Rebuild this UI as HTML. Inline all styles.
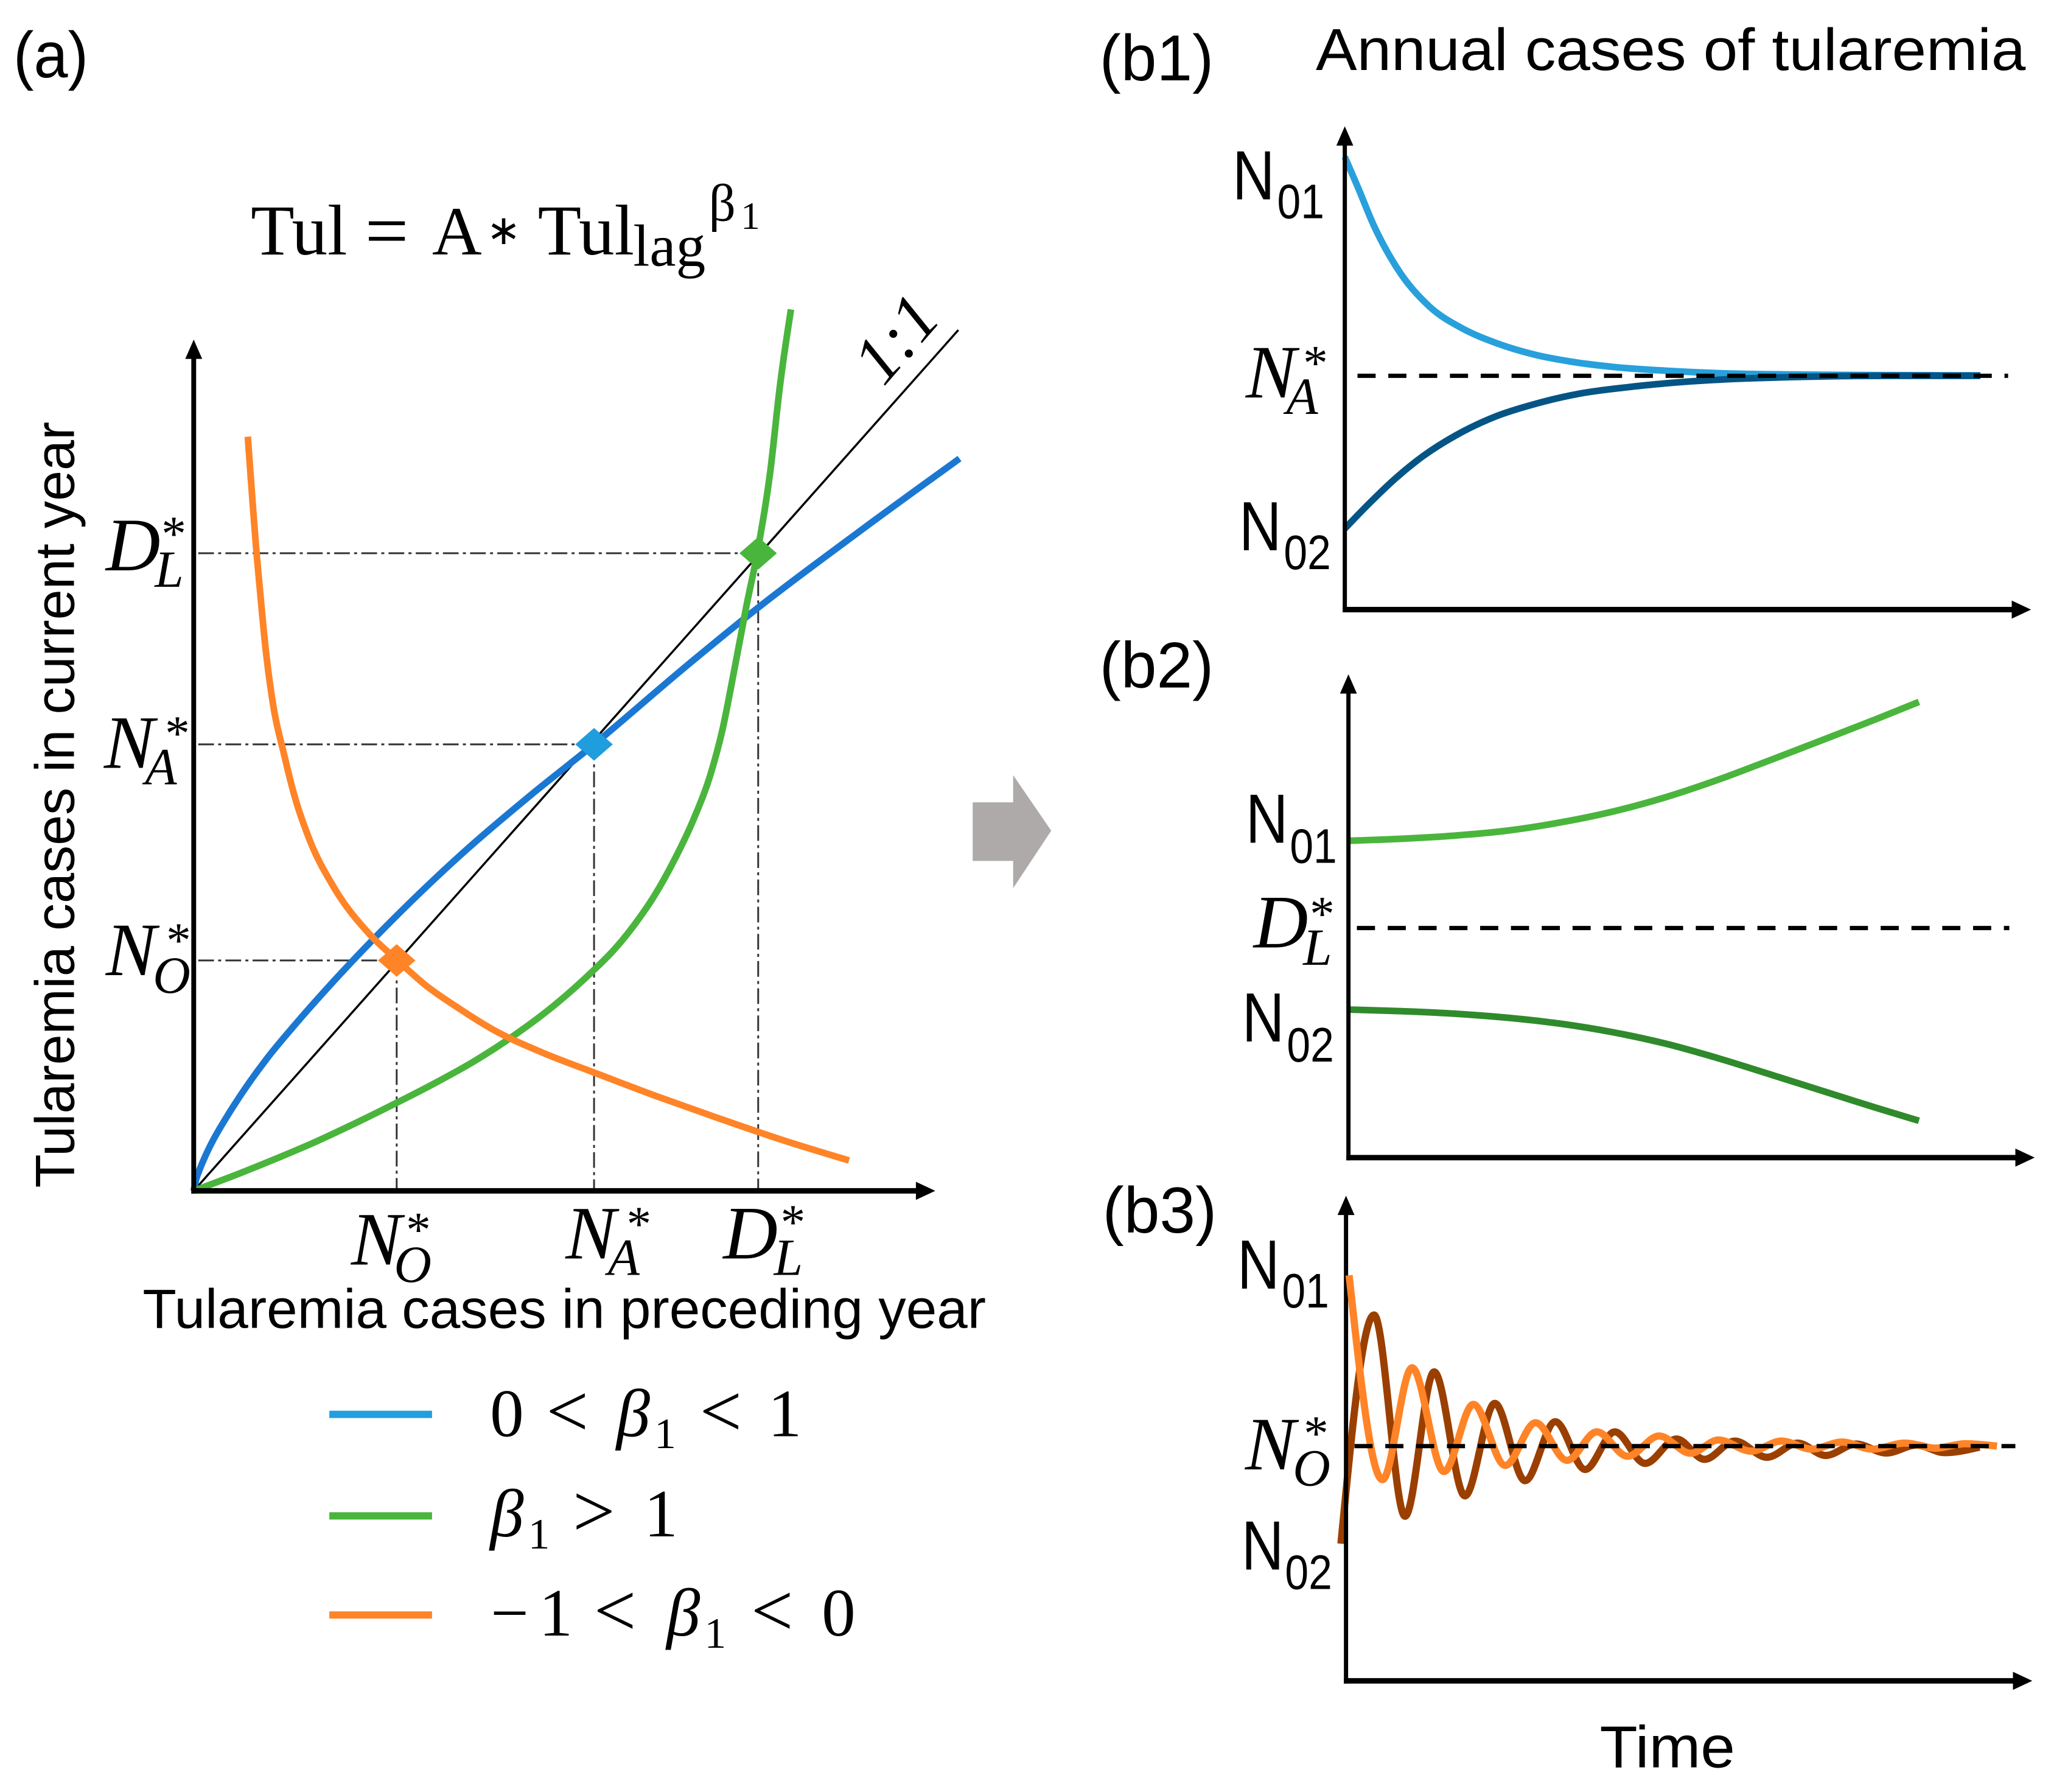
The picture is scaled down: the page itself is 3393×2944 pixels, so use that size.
<!DOCTYPE html>
<html lang="en">
<head>
<meta charset="utf-8">
<title>Tularemia cases model</title>
<style>
html,body{margin:0;padding:0;background:#fff;width:3393px;height:2944px;overflow:hidden}
svg{display:block}
text{fill:#000}
.sans{font-family:"Liberation Sans",sans-serif}
.serif{font-family:"Liberation Serif",serif}
.m{font-family:"Liberation Serif",serif;font-style:italic;font-size:125px}
.ms{font-family:"Liberation Serif",serif;font-style:italic;font-size:86px}
.st{font-family:"Liberation Serif",serif;font-size:82px}
.n{font-family:"Liberation Sans",sans-serif;font-size:115px}
.ns{font-family:"Liberation Sans",sans-serif;font-size:80px}
.pl{font-family:"Liberation Sans",sans-serif;font-size:108px}
.leg{font-family:"Liberation Serif",serif;font-size:112px}
.lt{font-size:124px}
.it{font-style:italic}
</style>
</head>
<body>
<svg id="figure" xmlns="http://www.w3.org/2000/svg" width="3393" height="2944" viewBox="0 0 3418 2966">
  <rect width="3418" height="2966" fill="#fff"/>

  <g id="panel-a">
    <text class="pl" x="22" y="128" textLength="124" lengthAdjust="spacingAndGlyphs">(a)</text>

    <g class="serif">
      <text x="415" y="421" font-size="118">Tul</text>
      <text x="604" y="425" font-size="128">=</text>
      <text x="715" y="421" font-size="114">A</text>
      <text x="805" y="404" font-size="68">∗</text>
      <text x="890" y="421" font-size="118">Tul</text>
      <text x="1048" y="440" font-size="98">lag</text>
      <text x="1173" y="365" font-size="88">β</text>
      <text x="1226" y="379" font-size="64">1</text>
    </g>

    <g id="a-marks"></g>

    <text class="serif it" font-size="112" transform="translate(1511,585) rotate(-49)" text-anchor="middle">1:1</text>

    <text class="sans" font-size="92" transform="translate(122,1966) rotate(-90)" textLength="1268" lengthAdjust="spacingAndGlyphs">Tularemia cases in current year</text>
    <text class="sans" font-size="92" x="236" y="2198" textLength="1396" lengthAdjust="spacingAndGlyphs">Tularemia cases in preceding year</text>

    <g><text class="m" x="175" y="944">D</text><text class="ms" x="256" y="971">L</text><text class="st" x="267" y="911">*</text></g>
    <g><text class="m" x="172" y="1271">N</text><text class="ms" x="240" y="1298">A</text><text class="st" x="273" y="1241">*</text></g>
    <g><text class="m" x="175" y="1614">N</text><text class="ms" x="253" y="1643">O</text><text class="st" x="275" y="1584">*</text></g>
    <g><text class="m" x="581" y="2093">N</text><text class="ms" x="652" y="2122">O</text><text class="st" x="672" y="2063">*</text></g>
    <g><text class="m" x="936" y="2083">N</text><text class="ms" x="1006" y="2110">A</text><text class="st" x="1037" y="2053">*</text></g>
    <g><text class="m" x="1197" y="2083">D</text><text class="ms" x="1281" y="2110">L</text><text class="st" x="1292" y="2050">*</text></g>

    <g>
      <g>
        <line x1="545" x2="715" y1="2341" y2="2341" stroke="#229fdd" stroke-width="12"/>
        <text class="leg" y="2377"><tspan x="811">0</tspan><tspan class="lt" x="904">&lt;</tspan><tspan class="it" x="1020">β</tspan><tspan font-size="72" x="1083" dy="20">1</tspan><tspan class="lt" x="1158" dy="-20">&lt;</tspan><tspan x="1271">1</tspan></text>
      </g>
      <g>
        <line x1="545" x2="715" y1="2509" y2="2509" stroke="#4ab53c" stroke-width="12"/>
        <text class="leg" y="2543"><tspan class="it" x="811">β</tspan><tspan font-size="72" x="874" dy="20">1</tspan><tspan class="lt" x="948" dy="-20">&gt;</tspan><tspan x="1066">1</tspan></text>
      </g>
      <g>
        <line x1="545" x2="715" y1="2673" y2="2673" stroke="#ff8427" stroke-width="12"/>
        <text class="leg" y="2707"><tspan x="812">−</tspan><tspan x="892">1</tspan><tspan class="lt" x="983">&lt;</tspan><tspan class="it" x="1103">β</tspan><tspan font-size="72" x="1166" dy="20">1</tspan><tspan class="lt" x="1243" dy="-20">&lt;</tspan><tspan x="1360">0</tspan></text>
      </g>
    </g>
  </g>

  <polygon points="1610,1328 1677,1328 1677,1283 1740,1375 1677,1470 1677,1425 1610,1425" fill="#aeaaaa"/>

  <g id="panel-b1">
    <text class="pl" x="1820" y="133" textLength="189" lengthAdjust="spacingAndGlyphs">(b1)</text>
    <text class="sans" font-size="98" x="2178" y="116" textLength="1175" lengthAdjust="spacingAndGlyphs">Annual cases of tularemia</text>
    <g id="b1-marks"></g>
    <g><text class="n" x="2040" y="330" textLength="70" lengthAdjust="spacingAndGlyphs">N</text><text class="ns" x="2114" y="361" textLength="78" lengthAdjust="spacingAndGlyphs">01</text></g>
    <g><text class="n" x="2051" y="911" textLength="70" lengthAdjust="spacingAndGlyphs">N</text><text class="ns" x="2125" y="942" textLength="78" lengthAdjust="spacingAndGlyphs">02</text></g>
    <g><text class="m" x="2062" y="658">N</text><text class="ms" x="2129" y="685">A</text><text class="st" x="2157" y="628">*</text></g>
  </g>

  <g id="panel-b2">
    <text class="pl" x="1820" y="1138" textLength="189" lengthAdjust="spacingAndGlyphs">(b2)</text>
    <g id="b2-marks"></g>
    <g><text class="n" x="2062" y="1395" textLength="70" lengthAdjust="spacingAndGlyphs">N</text><text class="ns" x="2135" y="1428" textLength="78" lengthAdjust="spacingAndGlyphs">01</text></g>
    <g><text class="m" x="2075" y="1568">D</text><text class="ms" x="2157" y="1597">L</text><text class="st" x="2168" y="1540">*</text></g>
    <g><text class="n" x="2056" y="1724" textLength="70" lengthAdjust="spacingAndGlyphs">N</text><text class="ns" x="2130" y="1757" textLength="78" lengthAdjust="spacingAndGlyphs">02</text></g>
  </g>

  <g id="panel-b3">
    <text class="pl" x="1825" y="2040" textLength="189" lengthAdjust="spacingAndGlyphs">(b3)</text>
    <g id="b3-marks"></g>
    <g><text class="n" x="2048" y="2133" textLength="70" lengthAdjust="spacingAndGlyphs">N</text><text class="ns" x="2122" y="2164" textLength="78" lengthAdjust="spacingAndGlyphs">01</text></g>
    <g><text class="m" x="2061" y="2432">N</text><text class="ms" x="2140" y="2459">O</text><text class="st" x="2158" y="2400">*</text></g>
    <g><text class="n" x="2055" y="2598" textLength="70" lengthAdjust="spacingAndGlyphs">N</text><text class="ns" x="2127" y="2630" textLength="78" lengthAdjust="spacingAndGlyphs">02</text></g>
    <text class="sans" font-size="98" x="2648" y="2925" textLength="224" lengthAdjust="spacingAndGlyphs">Time</text>
  </g>
</svg>

<script>
// Panel (a): value units where the N_A equilibrium = 100
const aBlueX = [0,0.5,1.5,3,5,8,12,18,25,35,50,67,84,100,123,138,166,191.3];
const aBlueY = [0,2.2,4.8,8,11.6,16.2,21.8,29.3,36.9,47,61,75.5,88.5,100,117.5,128.5,147.5,164];
const aGreenX = [0,10,20,30,40,50,60,70,80,90,100,105,110,115,120,125,129,132,135,138,141,144,146.5,149.2];
const aGreenY = [0,3.4,7,10.8,15,19.4,24,29,34.8,41.5,49.5,54,59.5,66,74,83.5,93,103,116.5,130.7,144,161,180.8,197.4];
const aOrangeX = [13.5,14.4,15.4,16.6,18,20,22.5,25,29,35,44,50.8,58,66,75,87,100,115,130,147,163.7];
const aOrangeY = [168.9,158,146,134,121,108,98,89,78.5,68,57.4,51.7,46,41,36,31,26.5,21.4,16.6,11.4,6.8];
const identityEnd = [191,192.8];
const equilibriumX = [50.7,100,141];
const equilibriumY = [51.6,100,142.8];
const equilibriumColors = ['#ff8427','#1f9ddc','#4ab53c'];
const equilibriumNames = ['orange','blue','green'];

// Panel (b1)
const b1Time1 = [0,2,4.6,8.2,13.3,18.5,23.7,29.9,36.1,42.3,50.6,59.9,70.2,85.7,100];
const b1High = [99.4,86,68,49,31.5,21.5,15,9.6,6.2,4,2.3,1.1,0.6,0.3,0.2];
const b1Time2 = [0,4,8.2,12.3,17.5,23.7,29.9,37.1,44.4,50.6,59.9,70.2,85.7,100];
const b1Low = [-69.4,-57.5,-46,-36.5,-27,-18.5,-12.8,-8,-5.2,-3.4,-1.6,-0.6,0,0];

// Panel (b2)
const b2Time = [0.3,9.6,18.8,28,37.2,46.4,55.6,64.9,74.1,83.3,92.5,100];
const b2High = [38.5,39.4,40.8,43,46.6,51.4,57.7,65.5,74.2,83.1,92.1,99.7];
const b2Low = [-36,-36.7,-37.8,-39.6,-42.2,-46,-51,-57.5,-64.7,-72,-79.3,-85];

// Panel (b3)
const b3BrownT = [-2,12.2,25.5,38,51.2,64,77,90,102.8,115.5,128.5,142,154,167,180.8,194,206,219,232,245,257,272];
const b3BrownV = [-48,64.5,-34.5,36.5,-24.5,21,-17,12,-11.5,7,-8.5,3.5,-6.5,2.5,-5.5,1.5,-4.6,1,-3.4,0.5,-3.2,-0.5];
const b3OrangeT = [1.5,15.8,28.5,42.2,54.8,68.5,81.5,95,107.8,121,134.5,148,160,174,187,200,213,226,240,253,266,279.5];
const b3OrangeV = [84,-16.5,38.5,-12.5,20.5,-9.5,11.5,-7,7,-5,5,-3.5,3,-2.5,2.5,-1.5,2,-1.5,1.5,-1,1.2,0];

const SVG_NS = 'http://www.w3.org/2000/svg';

function monotonePath(xs, ys, sx, sy) {
  const px = xs.map(sx), py = ys.map(sy), n = px.length;
  const h = [], s = [], t = new Array(n);
  for (let i = 0; i < n - 1; i++) {
    h[i] = px[i + 1] - px[i];
    s[i] = (py[i + 1] - py[i]) / h[i];
  }
  for (let i = 1; i < n - 1; i++) {
    const p = (s[i - 1] * h[i] + s[i] * h[i - 1]) / (h[i - 1] + h[i]);
    t[i] = (Math.sign(s[i - 1]) + Math.sign(s[i])) * Math.min(Math.abs(s[i - 1]), Math.abs(s[i]), 0.5 * Math.abs(p));
  }
  t[0] = (3 * s[0] - t[1]) / 2;
  t[n - 1] = (3 * s[n - 2] - t[n - 2]) / 2;
  let d = 'M' + px[0].toFixed(1) + ',' + py[0].toFixed(1);
  for (let i = 0; i < n - 1; i++) {
    const k = h[i] / 3;
    d += 'C' + (px[i] + k).toFixed(1) + ',' + (py[i] + k * t[i]).toFixed(1) + ' ' +
         (px[i + 1] - k).toFixed(1) + ',' + (py[i + 1] - k * t[i + 1]).toFixed(1) + ' ' +
         px[i + 1].toFixed(1) + ',' + py[i + 1].toFixed(1);
  }
  return d;
}

function drawCurve(parent, label, xs, ys, sx, sy, color, width) {
  const el = document.createElementNS(SVG_NS, 'path');
  el.setAttribute('d', monotonePath(xs, ys, sx, sy));
  el.setAttribute('fill', 'none');
  el.setAttribute('stroke', color);
  el.setAttribute('stroke-width', width);
  el.setAttribute('stroke-linejoin', 'round');
  
  
  parent.appendChild(el);
  return el;
}

function drawLine(parent, label, x1, y1, x2, y2, color, width, dash) {
  const el = document.createElementNS(SVG_NS, 'line');
  el.setAttribute('x1', x1);
  el.setAttribute('y1', y1);
  el.setAttribute('x2', x2);
  el.setAttribute('y2', y2);
  el.setAttribute('stroke', color);
  el.setAttribute('stroke-width', width);
  if (dash) el.setAttribute('stroke-dasharray', dash);
  
  
  parent.appendChild(el);
  return el;
}

function drawPoly(parent, label, pts, color) {
  const el = document.createElementNS(SVG_NS, 'polygon');
  el.setAttribute('points', pts.map(p => p.join(',')).join(' '));
  el.setAttribute('fill', color);
  
  
  parent.appendChild(el);
  return el;
}

function drawAxes(parent, ox, oy, tipX, tipY, wy, wx, prefix) {
  drawLine(parent, prefix + '-y-axis', ox, oy + wx / 2, ox, tipY + 20, '#000', wy);
  drawLine(parent, prefix + '-x-axis', ox - wy / 2, oy, tipX - 20, oy, '#000', wx);
  drawPoly(parent, prefix + '-y-arrowhead', [[ox, tipY], [ox - 14, tipY + 32], [ox + 14, tipY + 32]], '#000');
  drawPoly(parent, prefix + '-x-arrowhead', [[tipX, oy], [tipX - 32, oy - 15], [tipX - 32, oy + 15]], '#000');
}

// ---------- panel a ----------
(function () {
  const g = document.getElementById('a-marks');
  const sx = v => 320.5 + 6.627 * v;
  const sy = v => 1971 - 7.39 * v;
  const dashDot = '26 7 5 7';
  equilibriumX.forEach((vx, i) => {
    const vy = equilibriumY[i];
    drawLine(g, 'guide-horizontal-' + equilibriumNames[i], 328, sy(vy), sx(vx), sy(vy), '#333', 3, dashDot);
    drawLine(g, 'guide-vertical-' + equilibriumNames[i], sx(vx), sy(vy), sx(vx), sy(0), '#333', 3, dashDot);
  });
  drawLine(g, 'one-to-one-line', sx(0), sy(0), sx(identityEnd[0]), sy(identityEnd[1]), '#000', 3.5);
  drawCurve(g, 'curve-blue-beta-0-1', aBlueX, aBlueY, sx, sy, '#1b78d2', 11);
  drawCurve(g, 'curve-green-beta-gt-1', aGreenX, aGreenY, sx, sy, '#4ab53c', 11);
  drawCurve(g, 'curve-orange-beta-neg', aOrangeX, aOrangeY, sx, sy, '#ff8427', 11);
  drawAxes(g, 320.5, 1971, 1548, 562, 8, 9, 'panel-a');
  equilibriumX.forEach((vx, i) => {
    const cx = sx(vx), cy = sy(equilibriumY[i]);
    drawPoly(g, 'equilibrium-diamond-' + equilibriumNames[i], [[cx - 31, cy], [cx, cy - 27], [cx + 31, cy], [cx, cy + 27]], equilibriumColors[i]);
  });
})();

// ---------- panel b1 ----------
(function () {
  const g = document.getElementById('b1-marks');
  const sx = t => 2226 + t * 10.52;
  const sy = v => 622 - v * 3.645;
  drawCurve(g, 'b1-series-high', b1Time1, b1High, sx, sy, '#28a0dc', 11);
  drawCurve(g, 'b1-series-low', b1Time2, b1Low, sx, sy, '#045585', 11);
  drawLine(g, 'b1-equilibrium-line', 2247, sy(0), 3324, sy(0), '#000', 7, '30 21');
  drawAxes(g, 2226, 1009, 3362, 209, 7, 9, 'b1');
})();

// ---------- panel b2 ----------
(function () {
  const g = document.getElementById('b2-marks');
  const sx = t => 2232 + t * 9.444;
  const sy = v => 1536 - v * 3.753;
  drawCurve(g, 'b2-series-high', b2Time, b2High, sx, sy, '#4ab53c', 11);
  drawCurve(g, 'b2-series-low', b2Time, b2Low, sx, sy, '#2f8a2c', 11);
  drawLine(g, 'b2-threshold-line', 2246, sy(0), 3326, sy(0), '#000', 7, '30 21');
  drawAxes(g, 2232, 1916, 3368, 1116, 7, 9, 'b2');
})();

// ---------- panel b3 ----------
(function () {
  const g = document.getElementById('b3-marks');
  const sx = t => 2227.3 + t * 3.858;
  const sy = v => 2393.5 - v * 3.365;
  drawCurve(g, 'b3-series-brown', b3BrownT, b3BrownV, sx, sy, '#9b3f00', 12);
  drawAxes(g, 2228, 2782, 3364, 1979, 7, 9, 'b3');
  drawCurve(g, 'b3-series-orange', b3OrangeT, b3OrangeV, sx, sy, '#ff8427', 12);
  drawLine(g, 'b3-equilibrium-line', 2242, sy(0), 3336, sy(0), '#000', 7, '30 21');
})();
</script>
</body>
</html>
